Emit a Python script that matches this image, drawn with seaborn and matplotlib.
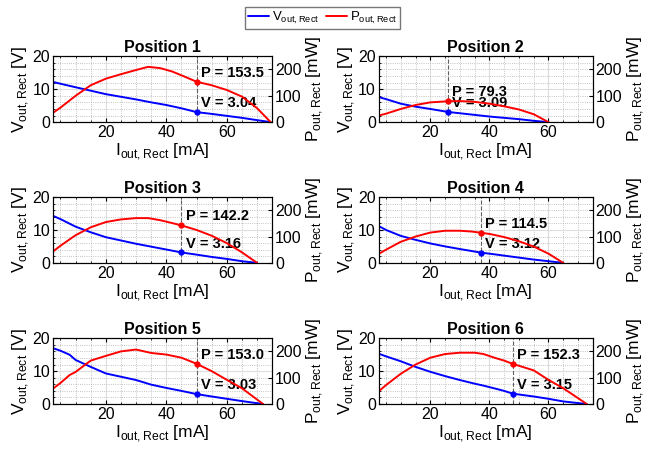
import numpy as np
import pandas as pd
import matplotlib
matplotlib.use("Agg")
import matplotlib.pyplot as plt
from matplotlib.ticker import MultipleLocator
from matplotlib.lines import Line2D
import seaborn as sns

sns.set_style("ticks")
plt.rcParams['font.family'] = ['Liberation Sans', 'DejaVu Sans']
plt.rcParams['mathtext.fontset'] = 'custom'
plt.rcParams['mathtext.rm'] = 'Liberation Sans'
for key in ['text.color', 'axes.labelcolor', 'xtick.color', 'ytick.color', 'axes.edgecolor']:
    plt.rcParams[key] = 'black'

# current [mA], voltage [V] and power [mW]
i1 = [2.5, 10, 20, 30, 35, 40, 45, 50, 55, 60, 65, 70, 74.5]
v1 = [12.2, 10.6, 8.5, 6.9, 6.0, 5.2, 4.2, 3.04, 2.5, 1.9, 1.3, 0.6, 0.0]
pi1 = [2.5, 5, 10, 15, 20, 25, 30, 34, 38, 42, 46, 50, 55, 60, 65, 70, 74.5]
p1 = [35, 55, 100, 140, 165, 182, 198, 210, 205, 192, 173, 153.5, 140, 122, 97, 53, 0]

i2 = [2.5, 5, 10, 15, 20, 26, 30, 35, 40, 45, 50, 55, 60]
v2 = [7.6, 7.0, 5.6, 4.7, 4.0, 3.09, 2.7, 2.2, 1.7, 1.3, 0.9, 0.4, 0.0]
p2 = [25, 32, 50, 65, 75, 79.3, 80, 77, 70, 60, 48, 30, 0]

i3 = [2.5, 5, 10, 15, 20, 25, 30, 34, 38, 42, 45, 50, 55, 60, 65, 70]
v3 = [14.3, 13.3, 11.0, 9.3, 7.8, 6.8, 5.8, 5.1, 4.4, 3.7, 3.16, 2.5, 1.8, 1.2, 0.5, 0.0]
p3 = [43, 65, 105, 135, 155, 165, 170, 170, 162, 151, 142.2, 125, 103, 75, 40, 0]

i4 = [2.5, 5, 10, 15, 20, 25, 30, 34, 37, 40, 45, 50, 55, 60, 65]
v4 = [11.2, 10.0, 8.2, 7.0, 5.9, 5.0, 4.2, 3.6, 3.12, 2.8, 2.2, 1.6, 1.0, 0.5, 0.0]
p4 = [34, 50, 80, 100, 115, 122, 122, 119, 114.5, 110, 98, 82, 62, 35, 0]

i5 = [2.5, 5, 8, 10, 15, 20, 25, 30, 35, 40, 45, 50, 55, 60, 65, 72]
v5 = [17.0, 16.2, 15.0, 13.4, 11.3, 9.3, 8.3, 7.3, 5.9, 4.9, 4.0, 3.03, 2.3, 1.6, 0.9, 0.0]
p5 = [58, 80, 110, 122, 165, 183, 200, 207, 194, 188, 176, 153.0, 125, 92, 60, 0]

i6 = [2.5, 5, 10, 15, 20, 25, 30, 35, 38, 42, 45, 48, 55, 60, 65, 73]
v6 = [15.3, 14.5, 13.0, 11.3, 9.8, 8.5, 7.3, 6.2, 5.6, 4.7, 4.0, 3.15, 2.3, 1.6, 0.8, 0.0]
p6 = [48, 72, 115, 150, 176, 190, 195, 195, 190, 175, 165, 152.3, 128, 92, 60, 0]

v_currents = [i1, i2, i3, i4, i5, i6]
p_currents = [pi1, i2, i3, i4, i5, i6]
voltages = [v1, v2, v3, v4, v5, v6]
powers = [p1, p2, p3, p4, p5, p6]
op_current = [50, 26, 45, 37, 50, 48]
op_voltage = [3.04, 3.09, 3.16, 3.12, 3.03, 3.15]
op_power = [153.5, 79.3, 142.2, 114.5, 153.0, 152.3]

blue = '#0000ff'
red = '#ff0000'

fig = plt.figure(figsize=(6.45, 4.54), dpi=100)
lefts = [0.082, 0.587]
bottoms = [0.731, 0.421, 0.110]
widths = [0.340, 0.332]
h = 0.145

for k in range(6):
    r, c = divmod(k, 2)
    ax = fig.add_axes([lefts[c], bottoms[r], widths[c], h])
    dv = pd.DataFrame({'I': v_currents[k], 'V': voltages[k]})
    dp = pd.DataFrame({'I': p_currents[k], 'P': powers[k]})
    sns.lineplot(data=dv, x='I', y='V', ax=ax, color=blue, lw=1.4)
    ax.set_xlim(2.5, 75)
    ax.set_ylim(0, 20)
    ax.xaxis.set_major_locator(MultipleLocator(20))
    ax.xaxis.set_minor_locator(MultipleLocator(5))
    ax.yaxis.set_major_locator(MultipleLocator(10))
    ax.yaxis.set_minor_locator(MultipleLocator(2))
    ax.grid(which='major', color='#dddddd', lw=0.8)
    ax.grid(which='minor', color='#b0b0b0', lw=0.6, ls=':')
    ax.tick_params(which='both', direction='in', labelsize=11.5, length=3, top=True, pad=2)
    ax.tick_params(which='minor', length=1.5)
    ax.set_xlabel(r'I$_{\mathregular{out,Rect}}$ [mA]', fontsize=12.5, labelpad=1)
    ax.set_ylabel(r'V$_{\mathregular{out,Rect}}$ [V]', fontsize=12.5, labelpad=1)
    ax.set_title(f'Position {k + 1}', fontsize=11.5, fontweight='bold', pad=3)
    ax.axvline(op_current[k], color='#606060', ls='--', lw=0.8)
    ax.plot(op_current[k], op_voltage[k], 'o', color=blue, ms=3.5)
    ax.text(op_current[k] + 1.5, op_voltage[k] + 0.5, f'V = {op_voltage[k]:.2f}',
            fontsize=10.5, fontweight='bold', va='bottom')

    ax2 = ax.twinx()
    sns.lineplot(data=dp, x='I', y='P', ax=ax2, color=red, lw=1.4)
    ax2.set_ylim(0, 250)
    ax2.yaxis.set_major_locator(MultipleLocator(100))
    ax2.tick_params(direction='in', labelsize=11.5, length=3, pad=2)
    ax2.set_ylabel(r'P$_{\mathregular{out,Rect}}$ [mW]', fontsize=12.5, labelpad=2)
    ax2.plot(op_current[k], op_power[k], 'o', color=red, ms=3.5)
    ax2.text(op_current[k] + 1.5, op_power[k] + 8, f'P = {op_power[k]:.1f}',
             fontsize=10.5, fontweight='bold', va='bottom')

handles = [Line2D([], [], color=blue, lw=1.4), Line2D([], [], color=red, lw=1.4)]
fig.legend(handles, [r'V$_{\mathregular{out,Rect}}$', r'P$_{\mathregular{out,Rect}}$'],
           loc='upper center', bbox_to_anchor=(0.5, 1.0), ncol=2, fontsize=9.5,
           frameon=True, fancybox=False, edgecolor='#555555', handlelength=1.6,
           columnspacing=0.5, handletextpad=0.2, borderpad=0.25)

fig.savefig('out.png', dpi=100)
